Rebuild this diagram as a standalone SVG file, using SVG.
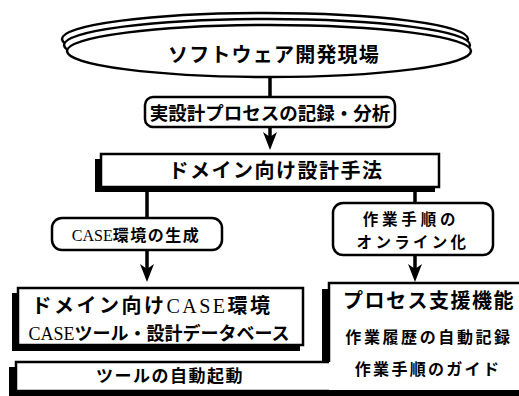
<svg xmlns="http://www.w3.org/2000/svg" width="519" height="396" viewBox="0 0 519 396">
<style>
.t{font-family:"Noto Sans CJK JP","Noto Sans CJK SC",sans-serif;font-weight:bold;fill:#000;text-anchor:middle}
.s{font-family:"Liberation Serif","Times New Roman",serif;font-weight:normal}
.box{fill:#fff;stroke:#000;stroke-width:2.5}
.sh{fill:#000}
.ln{stroke:#000;stroke-width:3.5;fill:none}
.el{fill:#fff;stroke:#000;stroke-width:2.5}
</style>
<defs>
<marker id="arr" viewBox="0 0 18 14" refX="10" refY="7" markerWidth="18" markerHeight="14" markerUnits="userSpaceOnUse" orient="auto">
<path d="M0,0 L18,7 L0,14 L5,7 Z" fill="#000"/>
</marker>
</defs>
<rect width="519" height="396" fill="#fff"/>

<g id="connectors">
<line class="ln" x1="270" y1="77" x2="270" y2="97"/>
<line class="ln" x1="270" y1="127" x2="270" y2="142" marker-end="url(#arr)"/>
<line class="ln" x1="147" y1="192" x2="147" y2="218"/>
<line class="ln" x1="415" y1="192" x2="415" y2="203"/>
<line class="ln" x1="147" y1="250" x2="147" y2="274" marker-end="url(#arr)"/>
<line class="ln" x1="415" y1="255" x2="415" y2="274" marker-end="url(#arr)"/>
</g>

<g id="site">
<ellipse class="el" cx="265" cy="39" rx="203" ry="26"/>
<ellipse class="el" cx="267" cy="45" rx="203" ry="26"/>
<ellipse class="el" cx="269" cy="51" rx="202" ry="26"/>
<text class="t" x="274" y="62" font-size="20" letter-spacing="1.2">ソフトウェア開発現場</text>
</g>

<g id="record">
<rect class="box" x="145" y="97" width="250" height="30" rx="8"/>
<text class="t" x="270" y="120" font-size="18.5">実設計プロセスの記録・分析</text>
</g>

<g id="domain-method">
<rect class="sh" x="95" y="159" width="6" height="33"/>
<rect class="sh" x="95" y="187" width="340" height="5"/>
<rect class="box" x="101" y="154" width="338" height="33"/>
<text class="t" x="276" y="178" font-size="20" letter-spacing="1.5">ドメイン向け設計手法</text>
</g>

<g id="case-gen">
<rect class="box" x="52" y="218" width="170" height="32" rx="10"/>
<text class="t" x="136" y="241" font-size="16" letter-spacing="1.5"><tspan class="s" letter-spacing="0">CASE</tspan>環境の生成</text>
</g>

<g id="online">
<rect class="box" x="333" y="203" width="160" height="52" rx="10"/>
<text class="t" x="411" y="225" font-size="15.5" letter-spacing="3.8">作業手順の</text>
<text class="t" x="413" y="248" font-size="15.5" letter-spacing="3.3">オンライン化</text>
</g>

<g id="case-env">
<rect class="sh" x="12" y="293" width="6" height="58"/>
<rect class="sh" x="12" y="345" width="288" height="6"/>
<rect class="box" x="18" y="288" width="285" height="57"/>
<text class="t" x="152" y="313" font-size="20" letter-spacing="2.5">ドメイン向け<tspan class="s">CASE</tspan>環境</text>
<text class="t" x="159" y="340" font-size="18"><tspan class="s">CASE</tspan>ツール・設計データベース</text>
</g>

<g id="tool-launch">
<rect class="sh" x="9" y="367" width="7" height="29"/>
<rect class="sh" x="9" y="391" width="510" height="5"/>
<rect class="box" x="16" y="362" width="512" height="29"/>
<text class="t" x="170" y="382" font-size="17" letter-spacing="1.5">ツールの自動起動</text>
</g>

<g id="process-support">
<rect class="sh" x="322" y="289" width="7" height="74"/>
<rect x="329" y="283" width="195" height="107" fill="#fff"/>
<path d="M521,283 H329 V362" fill="none" stroke="#000" stroke-width="2.5"/>
<text class="t" x="429" y="308" font-size="20" letter-spacing="1.5">プロセス支援機能</text>
<text class="t" x="429" y="343" font-size="16" letter-spacing="2.6">作業履歴の自動記録</text>
<text class="t" x="428" y="375" font-size="16" letter-spacing="2.3">作業手順のガイド</text>
</g>
</svg>
